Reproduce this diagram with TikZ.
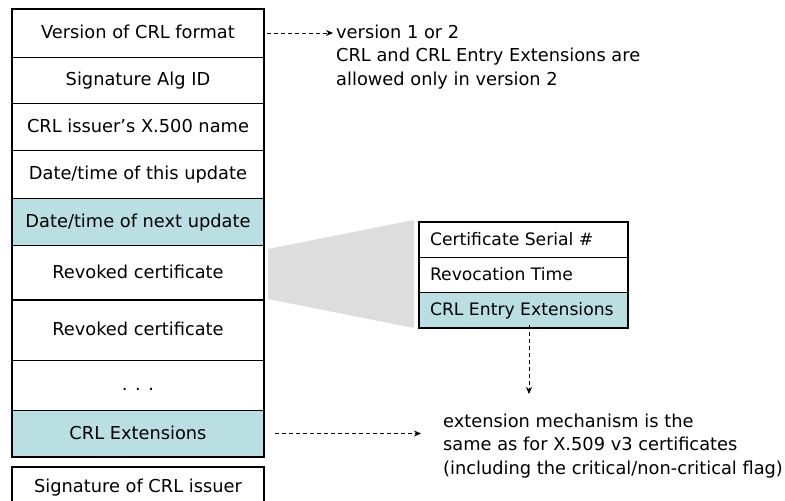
\documentclass[tikz,border=0pt]{standalone}
\usepackage{fontspec}
\setmainfont{DejaVu Sans}
\usetikzlibrary{arrows.meta}
\definecolor{rowteal}{RGB}{186,223,226}
\definecolor{trapgray}{RGB}{221,221,221}
\newcommand{\leftcell}[1]{\makebox[187pt][l]{#1}}
\tikzset{
  lbl/.style={font=\fontsize{17.8}{23.5}\selectfont, inner sep=0pt, text height=14pt, text depth=3pt},
  row/.style={lbl, draw=black, line width=0.9pt, minimum width=252pt, anchor=north west, outer sep=0pt},
  erow/.style={lbl, font=\fontsize{17.2}{23}\selectfont, draw=black, line width=0.9pt, minimum width=209pt, inner xsep=11pt, anchor=north west, outer sep=0pt},
  note/.style={font=\fontsize{17.8}{23.5}\selectfont, inner sep=0pt, align=left, anchor=west},
  darr/.style={line width=0.8pt, dash pattern=on 4pt off 3pt, -{Stealth[length=7pt,width=6pt]}},
  thick border/.style={line width=2.6pt}
}
\begin{document}
\begin{tikzpicture}[x=1pt,y=-1pt]
\useasboundingbox[fill=white] (0,0) rectangle (785,501);
% gray trapezoid (zoom)
\fill[trapgray] (268,249) -- (414,220) -- (414,328) -- (268,299) -- cycle;
% main CRL structure
\node[row, minimum height=48pt] (r1) at (12,9) {Version of CRL format};
\node[row, minimum height=46pt] (r2) at (12,57) {Signature Alg ID};
\node[row, minimum height=47pt] (r3) at (12,103) {CRL issuer’s X.500 name};
\node[row, minimum height=48pt] (r4) at (12,150) {Date/time of this update};
\node[row, minimum height=47pt, fill=rowteal] (r5) at (12,198) {Date/time of next update};
\node[row, minimum height=55pt] (r6) at (12,245) {Revoked certificate};
\node[row, minimum height=60pt] (r7) at (12,300) {Revoked certificate};
\node[row, minimum height=50pt] (r8) at (12,360) {. . .};
\node[row, minimum height=47pt, fill=rowteal] (r9) at (12,410) {CRL Extensions};
\draw[line width=1.8pt] (r7.north west) -- (r7.north east);
\draw[thick border] (r1.north west) rectangle (r9.south east);
% signature
\node[row, thick border, minimum height=40pt] (sig) at (12,467) {Signature of CRL issuer};
% revoked certificate entry
\node[erow, minimum height=35pt] (e1) at (419,222) {\leftcell{Certificate Serial \#}};
\node[erow, minimum height=35pt] (e2) at (419,257) {\leftcell{Revocation Time}};
\node[erow, minimum height=36pt, fill=rowteal] (e3) at (419,292) {\leftcell{CRL Entry Extensions}};
\draw[thick border] (e1.north west) rectangle (e3.south east);
% notes
\node[note] (n1) at (336,57) {version 1 or 2\\CRL and CRL Entry Extensions are\\allowed only in version 2};
\node[note] (n2) at (443,446) {extension mechanism is the\\same as for X.509 v3 certificates\\(including the critical/non-critical flag)};
% arrows
\draw[darr] ([xshift=3pt]r1.east) -- ([xshift=-3pt]n1.west |- r1.east);
\coordinate (a2) at (421,433.5);
\draw[darr] ([xshift=11pt]r9.east) -- (a2);
\coordinate (d2) at (529,394);
\draw[darr] ([yshift=3pt]e3.south -| d2) -- (d2);
\end{tikzpicture}
\end{document}
